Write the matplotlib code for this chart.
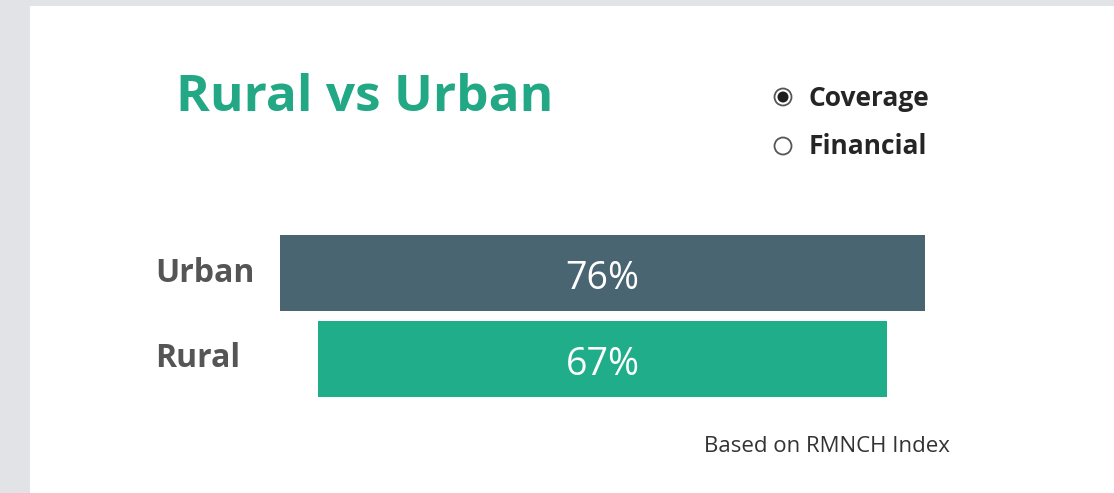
import matplotlib.pyplot as plt
from matplotlib.patches import Rectangle, Circle

plt.rcParams['font.family'] = ['Open Sans', 'DejaVu Sans']

categories = ['Rural', 'Urban']
values = [67, 76]
bar_colors = ['#20ae8a', '#4a6572']
options = ['Coverage', 'Financial']
selected = 'Coverage'

W, H = 1114, 493
fig = plt.figure(figsize=(W / 100, H / 100), dpi=100)
fig.patch.set_facecolor('#e1e3e6')

# overlay in pixel coordinates for the panel, title, radio buttons, note
bg = fig.add_axes([0, 0, 1, 1])
bg.set_xlim(0, W)
bg.set_ylim(H, 0)
bg.axis('off')
bg.add_patch(Rectangle((30, 6), W - 30, H - 6, facecolor='white', edgecolor='none'))

bg.text(176, 98, 'Rural vs Urban', fontsize=37, fontweight='bold', color='#22a884',
        va='center', ha='left')

for i, opt in enumerate(options):
    y = 97 + i * 49
    bg.add_patch(Circle((783, y), 8.5, facecolor='white', edgecolor='#555555', lw=1.3))
    if opt == selected:
        bg.add_patch(Circle((783, y), 5.5, facecolor='#1e1e1e', edgecolor='none'))
    bg.text(809, y + 1, opt, fontsize=19, fontweight='bold', color='#252525',
            va='center', ha='left')

bg.text(704, 447, 'Based on RMNCH Index', fontsize=16, color='#333333',
        va='center', ha='left')

# bars, centred like a funnel
top_px, bot_px = 235, 397
ax = fig.add_axes([280 / W, 1 - bot_px / H, 645 / W, (bot_px - top_px) / H])
ax.set_xlim(-max(values) / 2, max(values) / 2)
ypos = list(range(len(categories)))
ax.barh(ypos, values, left=[-v / 2 for v in values], height=76 / 86, color=bar_colors)
ax.set_ylim(-0.442, len(categories) - 1 + 0.442)
ax.axis('off')
label_x = -max(values) / 2 - (280 - 155) * max(values) / 645
for y, v, c in zip(ypos, values, categories):
    ax.text(0, y - 0.07, f'{v}%', color='white', fontsize=27, ha='center', va='center')
    ax.text(label_x, y, c, color='#555555', fontsize=23, fontweight='bold',
            ha='left', va='center')

fig.savefig('out.png', dpi=100, facecolor=fig.get_facecolor())
